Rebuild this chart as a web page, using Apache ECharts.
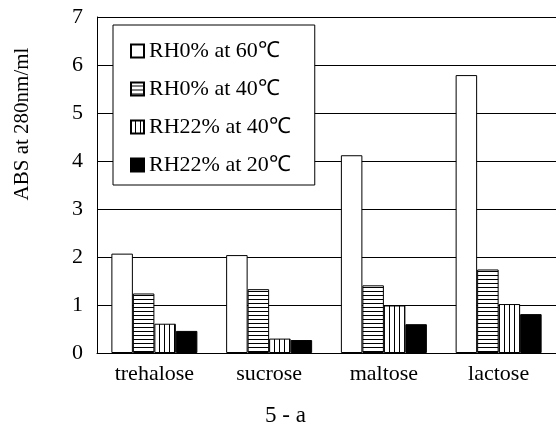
<!DOCTYPE html>
<html>
<head>
<meta charset="utf-8">
<script src="https://cdn.jsdelivr.net/npm/echarts@6/dist/echarts.min.js"></script>
<style>
  html, body { margin: 0; padding: 0; background: #fff; }
  #chart { width: 556px; height: 434px; }
</style>
</head>
<body>
<div id="chart"></div>
<script>
var categories = ['trehalose', 'sucrose', 'maltose', 'lactose'];
var seriesNames = ['RH0% at 60℃', 'RH0% at 40℃', 'RH22% at 40℃', 'RH22% at 20℃'];
var rh0at60 = [2.07, 2.04, 4.12, 5.79];
var rh0at40 = [1.24, 1.33, 1.41, 1.74];
var rh22at40 = [0.61, 0.30, 0.99, 1.02];
var rh22at20 = [0.46, 0.27, 0.60, 0.81];

// little canvas tiles for the striped fills
function stripes(horizontal) {
  var c = document.createElement('canvas');
  c.width = horizontal ? 4 : 5;
  c.height = 4;
  var g = c.getContext('2d');
  g.fillStyle = '#fff';
  g.fillRect(0, 0, c.width, c.height);
  g.fillStyle = '#000';
  if (horizontal) g.fillRect(0, 3, c.width, 1);
  else g.fillRect(4, 0, 1, c.height);
  return { image: c, repeat: 'repeat' };
}

var serif = 'Liberation Serif';
var fills = ['#fff', stripes(true), stripes(false), '#000'];
var values = [rh0at60, rh0at40, rh22at40, rh22at20];

var myChart = echarts.init(document.getElementById('chart'));
var option = {
  animation: false,
  grid: { left: 97, right: 0, top: 17, bottom: 81 },
  legend: {
    orient: 'vertical',
    left: 113,
    top: 25,
    data: seriesNames,
    icon: 'rect',
    backgroundColor: '#fff',
    borderColor: '#000',
    borderWidth: 1,
    padding: [15, 24, 9, 17],
    itemWidth: 13,
    itemHeight: 13,
    itemGap: 16,
    textStyle: { fontFamily: serif, fontSize: 22, color: '#000' }
  },
  xAxis: {
    type: 'category',
    data: categories,
    name: '5 - a',
    nameLocation: 'middle',
    nameGap: 51,
    nameTextStyle: { fontFamily: serif, fontSize: 23, color: '#000', padding: [0, 82, 0, 0] },
    axisLine: { lineStyle: { color: '#000' } },
    axisTick: { inside: true, length: 5, lineStyle: { color: '#000' } },
    axisLabel: { fontFamily: serif, fontSize: 22, color: '#000', margin: 10 }
  },
  yAxis: {
    type: 'value',
    min: 0,
    max: 7,
    interval: 1,
    name: 'ABS at 280nm/ml',
    nameLocation: 'middle',
    nameGap: 64,
    nameTextStyle: { fontFamily: serif, fontSize: 21, color: '#000', padding: [0, 0, 0, 122] },
    axisLine: { show: true, lineStyle: { color: '#000' } },
    axisTick: { show: false },
    axisLabel: { fontFamily: serif, fontSize: 22, color: '#000', margin: 14 },
    splitLine: { lineStyle: { color: '#000' } }
  },
  series: seriesNames.map(function (name, i) {
    return {
      name: name,
      type: 'bar',
      data: values[i],
      barWidth: 21.5,
      barGap: '0%',
      itemStyle: { color: fills[i], borderColor: '#000', borderWidth: 1 }
    };
  })
};
myChart.setOption(option);
</script>
</body>
</html>
